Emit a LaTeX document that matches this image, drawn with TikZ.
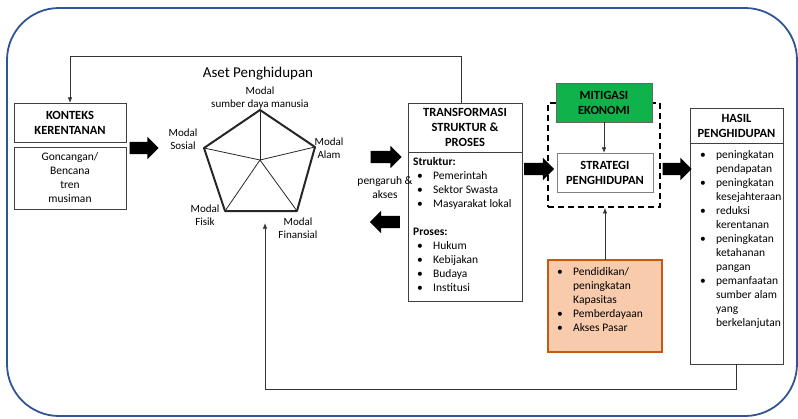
\documentclass[tikz,border=0pt]{standalone}
\usepackage{fontspec}
\setmainfont{Carlito}
\usetikzlibrary{arrows.meta, positioning, shapes.arrows}

\definecolor{frameBlue}{RGB}{47,85,151}
\definecolor{mitigasiGreen}{RGB}{16,178,76}
\definecolor{capFill}{RGB}{248,203,173}
\definecolor{capEdge}{RGB}{197,90,17}

\newcommand{\bul}{\makebox[16pt][l]{\textbullet}}
\newcommand{\ind}{\hspace*{16pt}}

\begin{document}
\begin{tikzpicture}[
        x=1pt, y=-1pt,
        every node/.style={font=\fontsize{11.5}{14}\selectfont},
        boxNode/.style={rectangle, draw=black!75, line width=0.8pt, inner sep=0pt, outer sep=0pt, align=center},
        titleFont/.style={font=\fontsize{12.5}{15}\selectfont\bfseries},
        listText/.style={anchor=north west, inner sep=0pt, align=left},
        modalLabel/.style={align=center, inner sep=0pt, font=\fontsize{11}{13}\selectfont},
        blockArrow/.style={single arrow, fill=black, draw=none, inner xsep=0pt, inner ysep=6pt, single arrow head extend=5pt, single arrow tip angle=90},
        arrow/.style={-{Latex[length=2mm, width=1.6mm]}, draw=black!80, line width=0.8pt}
    ]
        \useasboundingbox (0,0) rectangle (798,418);
        \draw[frameBlue, line width=1.8pt, rounded corners=52pt] (7,8) rectangle (797,416);

        % konteks kerentanan
        \node[boxNode, titleFont, minimum width=112pt, minimum height=39pt] (kontTitle) at (70,122.5) {KONTEKS\\KERENTANAN};
        \node[boxNode, minimum width=112pt, minimum height=62pt, below=5pt of kontTitle] (kontBody) {Goncangan/\\Bencana\\tren\\musiman};

        % aset penghidupan
        \node[inner sep=0pt, font=\fontsize{15}{18}\selectfont] (asetTitle) at (258,74) {Aset Penghidupan};
        \coordinate (pTop) at (260,110);
        \coordinate (pRight) at (315,147);
        \coordinate (pBR) at (297,211);
        \coordinate (pBL) at (225,211);
        \coordinate (pLeft) at (204,148);
        \coordinate (pCenter) at (260,160);
        \foreach \v in {pTop, pRight, pBR, pBL, pLeft}
            \draw[black!85, line width=0.8pt] (pCenter) -- (\v);
        \draw[black!85, line width=2pt, line join=round] (pTop) -- (pRight) -- (pBR) -- (pBL) -- (pLeft) -- cycle;
        \node[modalLabel] (modalSdm) at (260,98.5) {Modal\\sumber daya manusia};
        \node[modalLabel] (modalSosial) at (183,139) {Modal\\Sosial};
        \node[modalLabel] (modalAlam) at (329,148) {Modal\\Alam};
        \node[modalLabel] (modalFisik) at (205,215) {Modal\\Fisik};
        \node[modalLabel] (modalFinansial) at (298,228.5) {Modal\\Finansial};
        \coordinate (asetIn) at (265,223);

        % transformasi struktur & proses
        \node[boxNode, titleFont, minimum width=114pt, minimum height=49pt] (transTitle) at (465,127.5) {TRANSFORMASI\\STRUKTUR \&\\PROSES};
        \node[boxNode, minimum width=114pt, minimum height=149pt, below=0pt of transTitle] (transBody) {};
        \node[listText] (transList) at (413,157) {\textbf{Struktur:}\\
            \hspace*{4pt}\bul Pemerintah\\
            \hspace*{4pt}\bul Sektor Swasta\\
            \hspace*{4pt}\bul Masyarakat lokal\\[14pt]
            \textbf{Proses:}\\
            \hspace*{4pt}\bul Hukum\\
            \hspace*{4pt}\bul Kebijakan\\
            \hspace*{4pt}\bul Budaya\\
            \hspace*{4pt}\bul Institusi};
        \node[align=center, inner sep=0pt] (pengaruh) at (385,188) {pengaruh \&\\akses};

        % strategi penghidupan
        \node[rectangle, draw=black, dashed, dash pattern=on 6pt off 4pt, line width=1.6pt, minimum width=112pt, minimum height=104pt] (strategiGroup) at (604,155) {};
        \node[boxNode, titleFont, fill=mitigasiGreen, draw=black!60, minimum width=96pt, minimum height=39pt] (mitigasi) at (604,102.5) {MITIGASI\\EKONOMI};
        \node[boxNode, titleFont, fill=white, draw=black!50, minimum width=96pt, minimum height=39pt] (strategi) at (605,172.5) {STRATEGI\\PENGHIDUPAN};
        \node[boxNode, fill=capFill, draw=capEdge, line width=2pt, minimum width=114pt, minimum height=92pt] (kapasitas) at (605,306) {};
        \node[listText] (kapasitasList) at (557,267) {\bul Pendidikan/\\
            \ind peningkatan\\
            \ind Kapasitas\\
            \bul Pemberdayaan\\
            \bul Akses Pasar};

        % hasil penghidupan
        \node[boxNode, titleFont, minimum width=93pt, minimum height=35pt] (hasilTitle) at (736.5,125.5) {HASIL\\PENGHIDUPAN};
        \node[boxNode, minimum width=93pt, minimum height=221pt, below=0pt of hasilTitle] (hasilBody) {};
        \node[listText] (hasilList) at (700,150) {\bul peningkatan\\
            \ind pendapatan\\
            \bul peningkatan\\
            \ind kesejahteraan\\
            \bul reduksi\\
            \ind kerentanan\\
            \bul peningkatan\\
            \ind ketahanan\\
            \ind pangan\\
            \bul pemanfaatan\\
            \ind sumber alam\\
            \ind yang\\
            \ind berkelanjutan};

        % block arrows
        \node[blockArrow, minimum height=29pt] (arrKonteks) at (141,148) {};
        \node[blockArrow, minimum height=31pt] (arrAsetIn) at (383,157) {};
        \node[blockArrow, minimum height=30pt, shape border rotate=180] (arrAsetOut) at (388,222) {};
        \node[blockArrow, minimum height=30pt] (arrTrans) at (536,169) {};
        \node[blockArrow, minimum height=29pt] (arrStrategi) at (674,169) {};

        % connectors
        \draw[arrow] ([xshift=-4pt]transTitle.north) -- ++(0,-47) -| (kontTitle.north);
        \draw[arrow] (hasilBody.south) -- ++(0,25) -| (asetIn);
        \draw[arrow] (mitigasi.south) -- (mitigasi.south |- strategi.north);
        \draw[arrow] (kapasitas.north) -- (kapasitas.north |- strategiGroup.south);
    \end{tikzpicture}
\end{document}
